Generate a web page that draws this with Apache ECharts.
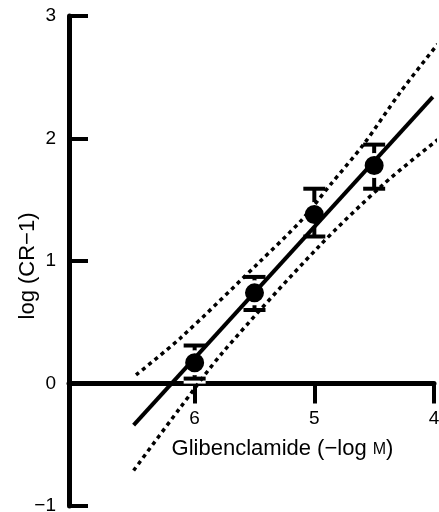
<!DOCTYPE html>
<html>
<head>
<meta charset="utf-8">
<script src="https://cdn.jsdelivr.net/npm/echarts@6/dist/echarts.min.js"></script>
<style>
  html, body { margin: 0; padding: 0; background: #fff; }
  #chart { width: 439px; height: 512px; }
</style>
</head>
<body>
<div id="chart"></div>
<script>
// glibenclamide concentration (-log M) and log(CR-1), means with error bar ends
var doses = [6, 5.5, 5, 4.5]
var logCR = [0.17, 0.74, 1.38, 1.78]
var errLow = [0.04, 0.6, 1.2, 1.59]
var errHigh = [0.31, 0.87, 1.59, 1.95]

// regression line ends
var fitX = [6.51, 4.01]
var fitY = [-0.34, 2.34]

// confidence limits (dotted)
var upperX = [6.49, 6.12, 5.45, 5.11, 4.86, 4.59, 4.28, 3.97]
var upperY = [0.07, 0.37, 1.0, 1.33, 1.63, 1.95, 2.38, 2.77]
var lowerX = [6.51, 6.13, 5.76, 4.97, 4.43, 3.97]
var lowerY = [-0.71, -0.21, 0.26, 1.11, 1.62, 1.99]

var xTicks = [6, 5, 4]

function pairs(xs, ys) {
  var out = []
  for (var i = 0; i < xs.length; i++) {
    out.push([xs[i], ys[i]])
  }
  return out
}

var errData = []
for (var i = 0; i < doses.length; i++) {
  errData.push([doses[i], errLow[i], errHigh[i]])
}

var chart = echarts.init(document.getElementById('chart'))
var font = 'Liberation Sans'
var gridTop = 16
var gridBottom = 6
var plotH = 512 - gridTop - gridBottom
// x axis sits on y = 0 (range -1..3), moved up from the grid bottom
var xOffset = -plotH / 4

chart.setOption({
  animation: false,
  grid: { left: 69, right: 5, top: gridTop, bottom: gridBottom, outerBoundsMode: 'none' },
  xAxis: {
    type: 'value',
    inverse: true,
    min: 4,
    max: 7.05,
    offset: xOffset,
    name: 'Glibenclamide (\u2212log {s|M})',
    nameLocation: 'middle',
    nameGap: 54,
    nameMoveOverlap: false,
    nameTextStyle: {
      color: '#000',
      fontSize: 22,
      fontFamily: font,
      verticalAlign: 'top',
      padding: [0, 0, 0, 62],
      rich: { s: { fontSize: 16, fontFamily: font, color: '#000', verticalAlign: 'top', padding: [4, 0, 0, 0] } }
    },
    axisLine: { onZero: false, lineStyle: { color: '#000', width: 5 } },
    axisTick: {
      show: true,
      length: 20,
      customValues: xTicks,
      lineStyle: { color: '#000', width: 4 }
    },
    axisLabel: {
      customValues: xTicks,
      margin: 26,
      color: '#000',
      fontSize: 19,
      fontFamily: font
    },
    splitLine: { show: false }
  },
  yAxis: {
    type: 'value',
    min: -1,
    max: 3,
    interval: 1,
    name: 'log (CR\u22121)',
    nameLocation: 'middle',
    nameGap: 30,
    nameMoveOverlap: false,
    nameTextStyle: { color: '#000', fontSize: 22, fontFamily: font, padding: [0, 10, 0, 0] },
    axisLine: { onZero: false, lineStyle: { color: '#000', width: 5 } },
    axisTick: {
      inside: true,
      length: 19,
      lineStyle: { color: '#000', width: 4 }
    },
    axisLabel: {
      margin: 13,
      color: '#000',
      fontSize: 19,
      fontFamily: font,
      formatter: function (v) { return v < 0 ? '\u2212' + Math.abs(v) : String(v) }
    },
    splitLine: { show: false }
  },
  series: [
    {
      type: 'line',
      data: pairs(upperX, upperY),
      smooth: 0.3,
      showSymbol: false,
      lineStyle: { color: '#000', width: 3.5, type: [4, 4] },
      silent: true
    },
    {
      type: 'line',
      data: pairs(lowerX, lowerY),
      smooth: 0.3,
      showSymbol: false,
      lineStyle: { color: '#000', width: 3.5, type: [4, 4] },
      silent: true
    },
    {
      type: 'line',
      data: pairs(fitX, fitY),
      showSymbol: false,
      lineStyle: { color: '#000', width: 4 },
      silent: true
    },
    {
      type: 'custom',
      data: errData,
      silent: true,
      renderItem: function (params, api) {
        var x = api.value(0)
        var pLo = api.coord([x, api.value(1)])
        var pHi = api.coord([x, api.value(2)])
        var hw = 11
        function parts(color, lw, stemW) {
          return [
            { type: 'line', shape: { x1: pHi[0], y1: pHi[1], x2: pLo[0], y2: pLo[1] }, style: { stroke: color, lineWidth: stemW } },
            { type: 'line', shape: { x1: pHi[0] - hw, y1: pHi[1], x2: pHi[0] + hw, y2: pHi[1] }, style: { stroke: color, lineWidth: lw } },
            { type: 'line', shape: { x1: pLo[0] - hw, y1: pLo[1], x2: pLo[0] + hw, y2: pLo[1] }, style: { stroke: color, lineWidth: lw } }
          ]
        }
        return {
          type: 'group',
          children: parts('#fff', 10, 10).concat(parts('#000', 4, 4))
        }
      }
    },
    {
      type: 'scatter',
      data: pairs(doses, logCR),
      symbol: 'circle',
      symbolSize: 22,
      itemStyle: { color: '#000', opacity: 1, borderColor: '#fff', borderWidth: 3 },
      silent: true
    }
  ]
})
</script>
</body>
</html>
